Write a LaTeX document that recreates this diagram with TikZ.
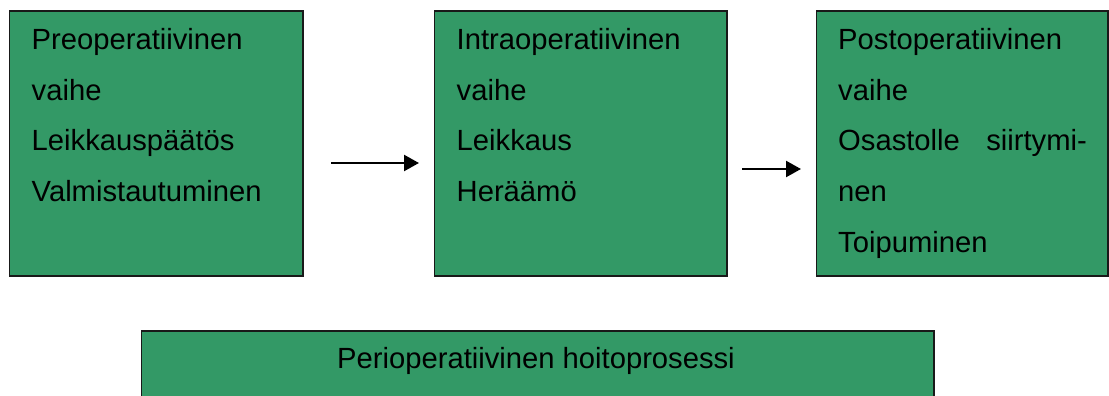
\documentclass[tikz,border=0pt]{standalone}
\usepackage{fontspec}
\setmainfont{Liberation Sans}
\usetikzlibrary{arrows.meta}
\definecolor{phase}{RGB}{51,153,102}
\begin{document}
\begin{tikzpicture}[x=1pt,y=-1pt,
  phasebox/.style={draw=black!90,line width=1.3pt,fill=phase,inner sep=0pt},
  txt/.style={anchor=base west,inner sep=0pt,font=\fontsize{29.2}{35}\selectfont},
  flow/.style={line width=2.3pt,-{Triangle[length=15pt,width=16pt]}}]
\useasboundingbox (0,0) rectangle (1109,396);
% the three phase boxes and the process box
\path[phasebox] (9.5,11) rectangle (303,276) coordinate (b1);
\path[phasebox] (434.5,11) rectangle (727,276) coordinate (b2);
\path[phasebox] (816.5,11) rectangle (1108,276) coordinate (b3);
\path[phasebox] (141.5,331) rectangle (934,420) coordinate (b4);
% texts of the first phase
\node[txt] (p1) at (31.5,49.5) {Preoperatiivinen};
\node[txt] (p2) at (31.5,100.2) {vaihe};
\node[txt] (p3) at (31.5,150.9) {Leikkauspäätös};
\node[txt] (p4) at (31.5,201.6) {Valmistautuminen};
% texts of the second phase
\node[txt] (i1) at (456.5,49.5) {Intraoperatiivinen};
\node[txt] (i2) at (456.5,100.2) {vaihe};
\node[txt] (i3) at (456.5,150.9) {Leikkaus};
\node[txt] (i4) at (456.5,201.6) {Heräämö};
% texts of the third phase
\node[txt] (o1) at (838,49.5) {Postoperatiivinen};
\node[txt] (o2) at (838,100.2) {vaihe};
\node[txt] (o3) at (838,150.9) {Osastolle};
\node[txt,anchor=base east] (o3b) at (1087,150.9) {siirtymi-};
\node[txt] (o4) at (838,201.6) {nen};
\node[txt] (o5) at (838,252.3) {Toipuminen};
% process label
\node[txt,anchor=base] (pp) at (536,368) {Perioperatiivinen hoitoprosessi};
% arrows between the phases
\coordinate (a1s) at (331,163);
\coordinate (a1e) at (419,163);
\coordinate (a2s) at (742,169);
\coordinate (a2e) at (801,169);
\draw[flow] (a1s) -- (a1e);
\draw[flow] (a2s) -- (a2e);
\end{tikzpicture}
\end{document}
